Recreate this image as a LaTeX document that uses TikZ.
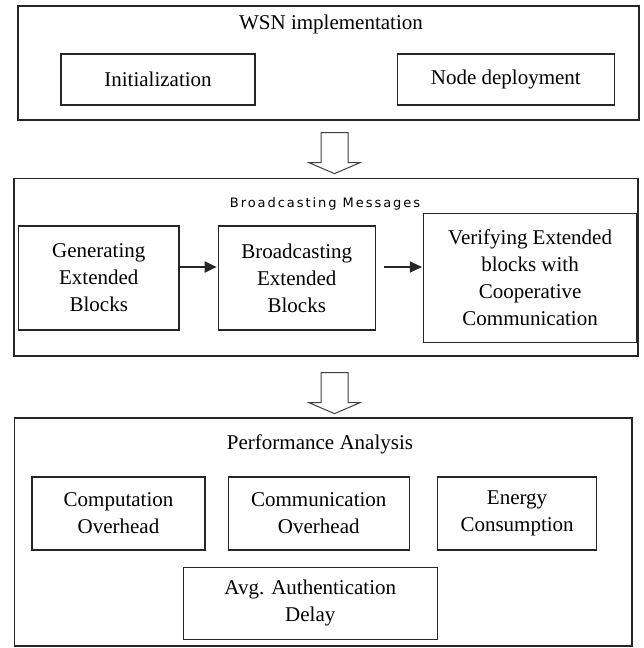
\documentclass[tikz,border=0pt]{standalone}
\usepackage{fontspec}
\setmainfont{Liberation Serif}
\newfontfamily\headsans[LetterSpace=15]{DejaVu Sans}
\usetikzlibrary{arrows.meta, positioning, calc}

\begin{document}
\begin{tikzpicture}[
  x=1pt, y=-1pt,
  frame/.style={rectangle, draw=black!85, line width=1.3pt, inner sep=0pt},
  box/.style={rectangle, draw=black!85, line width=1.3pt, inner sep=0pt,
    align=center, font=\fontsize{21}{27}\selectfont},
  head/.style={anchor=base, font=\fontsize{21}{24}\selectfont},
  hollow/.style={draw=black!75, line width=1pt, fill=white},
  arrow/.style={-{Triangle[length=12pt, width=11pt]}, black!85}
]
\useasboundingbox (0,0) rectangle (643,648);

% Top block: WSN implementation
\node[frame, minimum width=621pt, minimum height=114pt] (wsn) at (328.5,63) {};
\node[head] (wsnT) at (331,29) {WSN implementation};
\node[box, minimum width=194pt, minimum height=51pt] (I1) at (158,79.5)
  {Initialization};
\node[box, minimum width=217pt, minimum height=51pt, right=141pt of I1] (I2)
  {Node deployment};

% Middle block: broadcasting chain
\node[frame, minimum width=624pt, minimum height=177.5pt] (bcast) at (326,267.25) {};
\node[anchor=base, font=\headsans\fontsize{13}{16}\selectfont] (bcastT) at (325,207)
  {Broadcasting Messages};
\node[box, minimum width=160.5pt, minimum height=104pt] (G1) at (98.75,278)
  {Generating\\Extended\\Blocks};
\node[box, minimum width=157pt, minimum height=104pt, right=38pt of G1] (G2)
  {Broadcasting\\Extended\\Blocks};
\node[box, minimum width=213pt, minimum height=129pt, right=47pt of G2] (G3)
  {Verifying Extended\\blocks with\\Cooperative\\Communication};

\draw[arrow, line width=2pt] ($(G1.east)+(0,-11)$) -- ($(G2.west)+(-1,-11)$);
\draw[arrow, line width=1.2pt] ($(G2.east)+(8,-11)$) -- ($(G3.west)+(-1,-11)$);

% Hollow arrows between blocks
\coordinate (h1) at ($(wsn.south)+(6,12)$);
\draw[hollow] ($(h1)+(-13.5,0)$) -- ++(27,0) -- ++(0,30) -- ++(12,0)
  -- ++(-25.5,11) -- ++(-25.5,-11) -- ++(12,0) -- cycle;
\coordinate (h2) at ($(bcast.south)+(8.5,16)$);
\draw[hollow] ($(h2)+(-13.5,0)$) -- ++(27,0) -- ++(0,30) -- ++(12,0)
  -- ++(-25.5,11) -- ++(-25.5,-11) -- ++(12,0) -- cycle;

% Bottom block: performance analysis
\node[frame, minimum width=617.5pt, minimum height=228pt] (perf) at (323.25,532) {};
\node[head] (perfT) at (320,449) {Performance Analysis};
\node[box, minimum width=173pt, minimum height=73pt] (P1) at (118.5,513.5)
  {Computation\\Overhead};
\node[box, minimum width=181pt, minimum height=73pt, right=22pt of P1] (P2)
  {Communication\\Overhead};
\node[box, minimum width=159pt, minimum height=73pt, right=27pt of P2] (P3)
  {Energy\\Consumption};
\node[box, minimum width=254pt, minimum height=72pt, below=16pt of P2,
      xshift=-8.5pt] (P4)
  {Avg. Authentication\\Delay};
\end{tikzpicture}
\end{document}
